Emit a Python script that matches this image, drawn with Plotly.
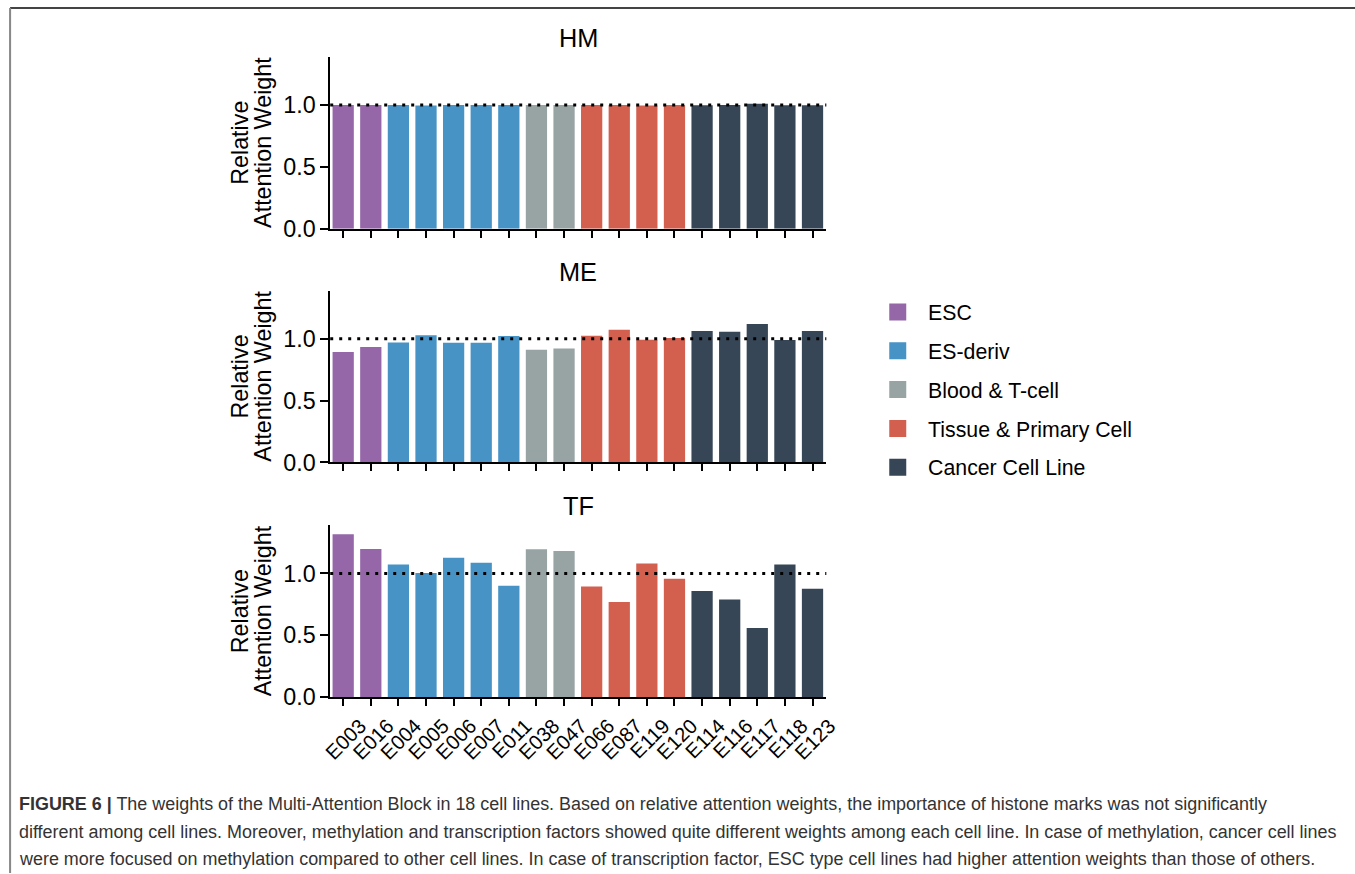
import plotly.graph_objects as go

# design coordinates are in target pixels; S compensates the capture scaling
S = 1.014
W0, H0 = 1355, 874
W, H = round(W0 * S), round(H0 * S)
# horizontal mapping of target pixels into the figure (empirical offset / scale)
X_OFF, X_SPAN = 11.5, 1349.0

cells = ["E003", "E016", "E004", "E005", "E006", "E007", "E011", "E038", "E047",
         "E066", "E087", "E119", "E120", "E114", "E116", "E117", "E118", "E123"]
groups = ["ESC", "ESC", "ES-deriv", "ES-deriv", "ES-deriv", "ES-deriv", "ES-deriv",
          "Blood & T-cell", "Blood & T-cell",
          "Tissue & Primary Cell", "Tissue & Primary Cell", "Tissue & Primary Cell", "Tissue & Primary Cell",
          "Cancer Cell Line", "Cancer Cell Line", "Cancer Cell Line", "Cancer Cell Line", "Cancer Cell Line"]
group_names = ["ESC", "ES-deriv", "Blood & T-cell", "Tissue & Primary Cell", "Cancer Cell Line"]
group_colors = ["#9566a8", "#4793c6", "#98a3a4", "#d35f4f", "#374656"]

hm_values = [1.0, 1.0, 1.0, 0.995, 1.0, 1.0, 1.0, 1.0, 1.0,
             1.0, 1.0, 0.995, 1.0, 0.998, 1.0, 1.01, 0.998, 0.998]
me_values = [0.892, 0.932, 0.970, 1.027, 0.967, 0.967, 1.022, 0.911, 0.921,
             1.024, 1.073, 0.992, 1.005, 1.062, 1.057, 1.119, 0.989, 1.062]
tf_values = [1.316, 1.197, 1.073, 1.003, 1.127, 1.086, 0.900, 1.195, 1.181,
             0.895, 0.770, 1.081, 0.957, 0.859, 0.789, 0.559, 1.073, 0.876]

panel_titles = ["HM", "ME", "TF"]
y_ticks = [0.0, 0.5, 1.0]
y_tick_labels = ["0.0", "0.5", "1.0"]
ylabel_lines = ["Relative", "Attention Weight"]
caption_lines = [
    "<b>FIGURE 6 |</b> The weights of the Multi-Attention Block in 18 cell lines. Based on relative attention weights, the importance of histone marks was not significantly",
    "different among cell lines. Moreover, methylation and transcription factors showed quite different weights among each cell line. In case of methylation, cancer cell lines",
    "were more focused on methylation compared to other cell lines. In case of transcription factor, ESC type cell lines had higher attention weights than those of others.",
]

color_of = dict(zip(group_names, group_colors))
bar_colors = [color_of[g] for g in groups]

FONT = "Liberation Sans, Arial, Helvetica, sans-serif"

def px_x(p):
    return max(0.0008, (p - X_OFF) / X_SPAN)

def px_y(p):
    return 1 - p / H0

def s(v):
    return v * S

x_dom = [px_x(332), px_x(827)]
panels_px = [(57, 229), (291, 463), (526, 698)]
yrange = [0, 1.388]

fig = go.Figure()

all_values = [hm_values, me_values, tf_values]
for i, vals in enumerate(all_values):
    sfx = "" if i == 0 else str(i + 1)
    fig.add_trace(go.Bar(
        x=cells, y=vals, marker=dict(color=bar_colors, line=dict(width=0)),
        width=0.77, showlegend=False, xaxis="x" + sfx, yaxis="y" + sfx,
    ))

for name, col in zip(group_names, group_colors):
    fig.add_trace(go.Bar(
        x=[None], y=[None], name=name, legendgroup=name,
        marker=dict(color=col, line=dict(color=col, width=5)),
        xaxis="x", yaxis="y",
    ))

layout = dict(
    width=W, height=H,
    margin=dict(l=0, r=0, t=0, b=0),
    paper_bgcolor="white", plot_bgcolor="white",
    font=dict(family=FONT, color="black", size=s(20)),
    legend=dict(
        x=px_x(868), y=px_y(292), xanchor="left", yanchor="top",
        font=dict(family=FONT, size=s(21), color="black"),
        tracegroupgap=s(8), itemwidth=s(50),
    ),
    annotations=[], shapes=[],
)

for i, (top, bot) in enumerate(panels_px):
    sfx = "" if i == 0 else str(i + 1)
    last = (i == 2)
    layout["xaxis" + sfx] = dict(
        domain=x_dom, anchor="y" + sfx, type="category",
        categoryorder="array", categoryarray=cells,
        range=[-0.47, 17.5],
        showline=True, linecolor="black", linewidth=s(1.5),
        ticks="outside", ticklen=s(7), tickwidth=s(1.5), tickcolor="black",
        showticklabels=last, tickangle=-45, ticklabelshift=int(round(s(17))) if last else 0,
        tickfont=dict(family=FONT, size=s(20), color="black"),
        showgrid=False, zeroline=False,
    )
    layout["yaxis" + sfx] = dict(
        domain=[px_y(bot), px_y(top)], anchor="x" + sfx,
        range=yrange, tickvals=y_ticks, ticktext=y_tick_labels,
        showline=True, linecolor="black", linewidth=s(1.5),
        ticks="outside", ticklen=s(8), tickwidth=s(1.5), tickcolor="black",
        tickfont=dict(family=FONT, size=s(23), color="black"),
        showgrid=False, zeroline=False,
    )
    layout["shapes"].append(dict(
        type="line", xref="x" + sfx + " domain", yref="y" + sfx,
        x0=0.0, x1=1.0, y0=1.0, y1=1.0,
        line=dict(color="black", width=s(3), dash="3px,6px"), layer="above",
    ))
    layout["annotations"].append(dict(
        text=panel_titles[i], xref="paper", yref="paper",
        x=(x_dom[0] + x_dom[1]) / 2, y=px_y(top - 19),
        xanchor="center", yanchor="middle", showarrow=False,
        font=dict(family=FONT, size=s(25), color="black"),
    ))
    for lbl, xp in zip(ylabel_lines, [242, 265]):
        layout["annotations"].append(dict(
            text=lbl, xref="paper", yref="paper",
            x=px_x(xp), y=px_y((top + bot) / 2), textangle=-90,
            xanchor="center", yanchor="middle", showarrow=False,
            font=dict(family=FONT, size=s(23), color="black"),
        ))

for j, line in enumerate(caption_lines):
    layout["annotations"].append(dict(
        text=line, xref="paper", yref="paper",
        x=px_x(20), y=px_y(805 + 27.5 * j), xanchor="left", yanchor="middle",
        showarrow=False, align="left", borderpad=0,
        font=dict(family=FONT, size=s(17.7), color="#333333"),
    ))

layout["shapes"].append(dict(type="line", xref="paper", yref="paper",
                             x0=px_x(7), x1=1, y0=px_y(8), y1=px_y(8),
                             line=dict(color="#444444", width=s(2))))
layout["shapes"].append(dict(type="line", xref="paper", yref="paper",
                             x0=px_x(7), x1=px_x(7), y0=px_y(8), y1=0,
                             line=dict(color="#888888", width=s(2))))

fig.update_layout(**layout)
post = (
    "document.documentElement.style.margin='0';"
    "document.body.style.margin='0';"
)
fig.write_html("out.html", config={"displayModeBar": False}, post_script=post)
